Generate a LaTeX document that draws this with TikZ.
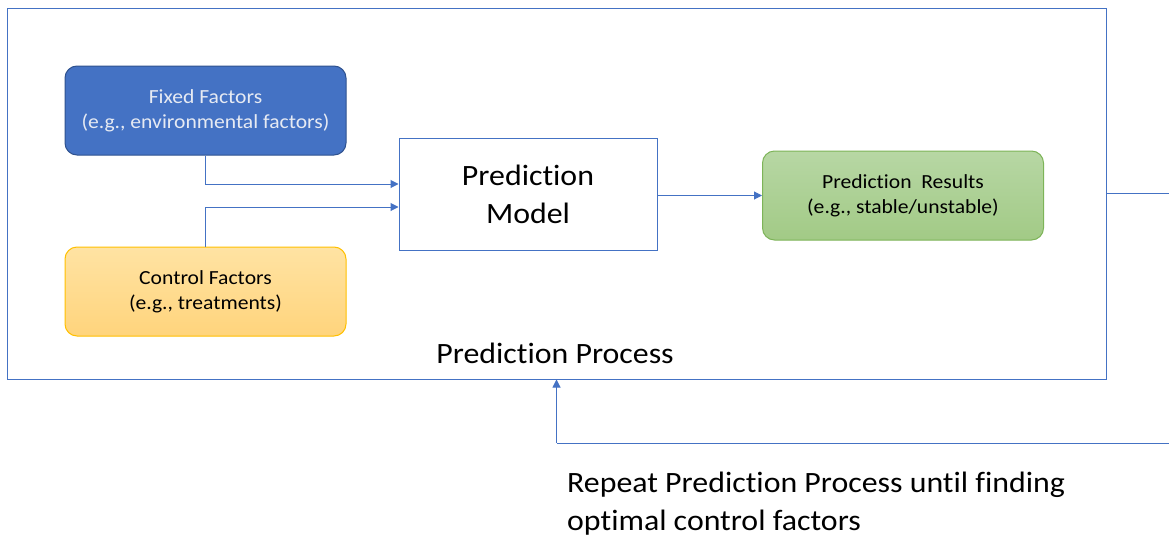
\documentclass[tikz,border=0pt]{standalone}
\usepackage{fontspec}
\setmainfont{Carlito}[FakeStretch=1.08, Ligatures=NoCommon]
\usetikzlibrary{arrows.meta,shadings}
\definecolor{lblue}{HTML}{4472C4}
\definecolor{dblue}{HTML}{2F528F}
\definecolor{ftext}{HTML}{E6EAF3}
\definecolor{gtop}{HTML}{B7D7A4}
\definecolor{gbot}{HTML}{A2CA86}
\definecolor{gbord}{HTML}{7DB458}
\definecolor{ytop}{HTML}{FFE3A3}
\definecolor{ybot}{HTML}{FFD47C}
\definecolor{ybord}{HTML}{FFC000}
\tikzset{
  fbox/.style={rounded corners=12pt, minimum width=281pt, minimum height=89pt, align=center, inner sep=0pt,
    font=\fontsize{20}{25}\selectfont},
  arr/.style={draw=lblue, line width=1pt, -{Triangle[length=8pt,width=8pt]}},
  ln/.style={draw=lblue, line width=1pt},
  bigtxt/.style={font=\fontsize{29.5}{38}\selectfont, inner sep=0pt}
}
\begin{document}
\begin{tikzpicture}[x=1pt,y=-1pt]
\useasboundingbox (0,0) rectangle (1169,538);
\clip (0,0) rectangle (1169,538);
\fill[white] (0,0) rectangle (1169,538);
\node[draw=lblue, line width=1pt, minimum width=1099pt, minimum height=371pt, inner sep=0pt] (outer) at (556.5,193.5) {};
\node[fbox, fill=lblue, draw=dblue, line width=1pt, text=ftext] (fixed) at (205.5,110.5) {Fixed Factors\\(e.g., environmental factors)};
\node[fbox, top color=ytop, bottom color=ybot, draw=ybord, line width=1pt] (control) at (205.5,291.5) {Control Factors\\(e.g., treatments)};
\node[draw=lblue, line width=1pt, minimum width=258pt, minimum height=112pt, inner sep=0pt, align=center, bigtxt] (model) at (528,194) {Prediction\\Model};
\node[fbox, top color=gtop, bottom color=gbot, draw=gbord, line width=1pt] (results) at (903,195.5) {Prediction~~Results\\(e.g., stable/unstable)};
\node[bigtxt, anchor=base] (ptitle) at (555,363) {Prediction Process};
\node[bigtxt, anchor=base west] (repeat1) at (567,492) {Repeat Prediction Process until finding};
\node[bigtxt, anchor=base west] (repeat2) at (567,530) {optimal control factors};
\draw[arr] (fixed.south) |- ([yshift=10pt]model.west);
\draw[arr] (control.north) |- ([yshift=-13pt]model.west);
\draw[arr] (model.east |- results.west) -- (results.west);
\coordinate (c1) at (1190,193.5);
\coordinate (c2) at (1190,443);
\coordinate (c3) at (556.5,443);
\draw[ln] (outer.east) -- (c1) -- (c2) -- (c3);
\draw[arr] (c3) -- (outer.south);
\end{tikzpicture}
\end{document}
